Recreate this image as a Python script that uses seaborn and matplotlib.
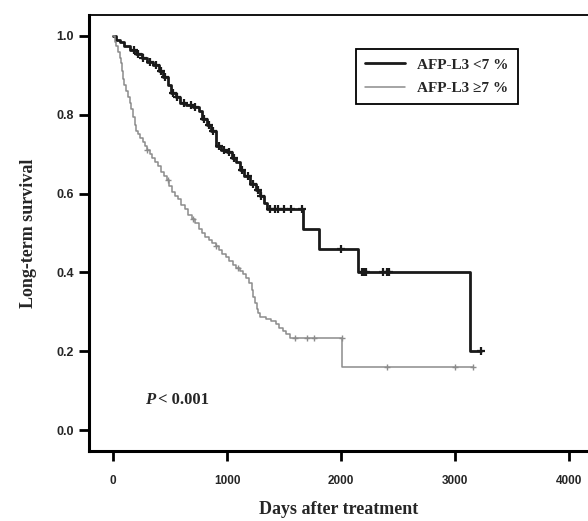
import numpy as np
import pandas as pd
import matplotlib
matplotlib.use("Agg")
import matplotlib.pyplot as plt
import seaborn as sns

# ---- data ----
low_times = [0, 30, 60, 100, 150, 200, 250, 300, 350, 400, 440, 480, 510, 550, 590,
             640, 700, 750, 780, 820, 860, 900, 950, 1000, 1040, 1080, 1110, 1150,
             1200, 1250, 1290, 1320, 1350, 1670, 1810, 2150, 3130, 3230]
low_surv = [1.0, 0.99, 0.985, 0.975, 0.965, 0.955, 0.945, 0.935, 0.925, 0.91, 0.895,
            0.875, 0.855, 0.845, 0.83, 0.825, 0.82, 0.81, 0.79, 0.775, 0.76, 0.72,
            0.71, 0.705, 0.69, 0.68, 0.66, 0.645, 0.625, 0.61, 0.595, 0.575, 0.56,
            0.51, 0.46, 0.40, 0.20, 0.20]
low_cens_t = [180, 220, 260, 320, 380, 420, 460, 530, 560, 620, 680, 720, 800, 840,
              880, 930, 970, 1020, 1060, 1130, 1180, 1230, 1270, 1300, 1380, 1420,
              1450, 1500, 1560, 1660, 2000, 2180, 2200, 2220, 2370, 2400, 2420, 3230]

high_times = [0, 15, 30, 45, 60, 70, 80, 90, 100, 115, 130, 145, 160, 175, 190, 205,
              220, 240, 260, 280, 300, 320, 345, 370, 395, 420, 445, 470, 495, 520,
              545, 570, 600, 630, 660, 690, 720, 750, 780, 810, 840, 870, 900, 930,
              960, 990, 1020, 1050, 1080, 1110, 1140, 1170, 1195, 1215, 1230, 1245,
              1260, 1275, 1290, 1340, 1390, 1430, 1460, 1490, 1520, 1555, 2013, 3160]
high_surv = [1.0, 0.985, 0.975, 0.96, 0.945, 0.93, 0.91, 0.89, 0.875, 0.86, 0.845,
             0.83, 0.815, 0.795, 0.775, 0.76, 0.75, 0.74, 0.73, 0.72, 0.71, 0.70,
             0.69, 0.68, 0.67, 0.655, 0.645, 0.635, 0.62, 0.605, 0.595, 0.585, 0.572,
             0.56, 0.545, 0.535, 0.525, 0.51, 0.50, 0.49, 0.482, 0.474, 0.466, 0.456,
             0.446, 0.438, 0.43, 0.418, 0.41, 0.404, 0.396, 0.385, 0.372, 0.355,
             0.338, 0.322, 0.308, 0.296, 0.288, 0.283, 0.278, 0.268, 0.26, 0.252,
             0.243, 0.234, 0.16, 0.16]
high_cens_t = [300, 480, 700, 900, 1100, 1600, 1700, 1760, 2010, 2400, 3000, 3160]

labels = ["AFP-L3 <7 %", "AFP-L3 \u22657 %"]
x_ticks = [0, 1000, 2000, 3000, 4000]
y_ticks = [0.0, 0.2, 0.4, 0.6, 0.8, 1.0]


def surv_at(times, surv, t):
    idx = np.searchsorted(times, t, side="right") - 1
    return surv[max(idx, 0)]


df = pd.concat([
    pd.DataFrame({"t": low_times, "s": low_surv, "g": labels[0]}),
    pd.DataFrame({"t": high_times, "s": high_surv, "g": labels[1]}),
])
cens = pd.concat([
    pd.DataFrame({"t": low_cens_t,
                  "s": [surv_at(low_times, low_surv, t) for t in low_cens_t],
                  "g": labels[0]}),
    pd.DataFrame({"t": high_cens_t,
                  "s": [surv_at(high_times, high_surv, t) for t in high_cens_t],
                  "g": labels[1]}),
])

sns.set_style("white")
serif = ["Liberation Serif", "DejaVu Serif"]
sans = ["Liberation Sans", "DejaVu Sans"]

fig = plt.figure(figsize=(5.88, 5.21), dpi=100)
ax = fig.add_axes([89 / 588, 70 / 521, 499 / 588, 436 / 521])

palette = {labels[0]: "#1a1a1a", labels[1]: "#8c8c8c"}
sizes = {labels[0]: 2.0, labels[1]: 1.1}

for g in labels:
    sub = df[df.g == g]
    sns.lineplot(data=sub, x="t", y="s", ax=ax, color=palette[g],
                 linewidth=sizes[g], drawstyle="steps-post", label=g,
                 estimator=None, sort=False)
    c = cens[cens.g == g]
    sns.scatterplot(data=c, x="t", y="s", ax=ax, color=palette[g], marker="+",
                    s=40 if g == labels[0] else 25,
                    linewidth=1.6 if g == labels[0] else 1.0, legend=False)

ax.set_xlim(-211, 4167)
ax.set_ylim(-0.053, 1.053)
ax.set_xticks(x_ticks)
ax.set_yticks(y_ticks)
ax.set_xticklabels([str(v) for v in x_ticks], fontfamily=sans, fontsize=8.5,
                   fontweight="bold")
ax.set_yticklabels([f"{v:.1f}" for v in y_ticks], fontfamily=sans, fontsize=9,
                   fontweight="bold")
ax.tick_params(axis="both", direction="out", length=7, width=2, color="black",
               bottom=True, left=True, pad=4)
ax.tick_params(axis="x", pad=10)

ax.spines["right"].set_visible(False)
ax.spines["top"].set_linewidth(1.3)
ax.spines["left"].set_linewidth(2.2)
ax.spines["bottom"].set_linewidth(2.2)
for s in ax.spines.values():
    s.set_color("black")

ax.set_xlabel("Days after treatment", fontfamily=serif, fontweight="bold",
              fontsize=13, labelpad=10)
ax.set_ylabel("Long-term survival", fontfamily=serif, fontweight="bold",
              fontsize=13, labelpad=14)

leg = ax.legend(loc="upper left", bbox_to_anchor=(0.52, 0.94), frameon=True,
                fancybox=False, edgecolor="black", framealpha=1,
                prop={"family": serif, "weight": "bold", "size": 11},
                handlelength=2.6, borderpad=0.6, labelspacing=0.65)
leg.get_frame().set_linewidth(1.3)

ax.text(281, 0.076, "P", fontfamily=serif, fontweight="bold", style="italic",
        fontsize=12, va="center", ha="left")
ax.annotate("< 0.001", xy=(281, 0.076), xytext=(9.5, 0), textcoords="offset points",
            fontfamily=serif, fontweight="bold", fontsize=12, va="center", ha="left")

fig.savefig("out.png", dpi=100)
